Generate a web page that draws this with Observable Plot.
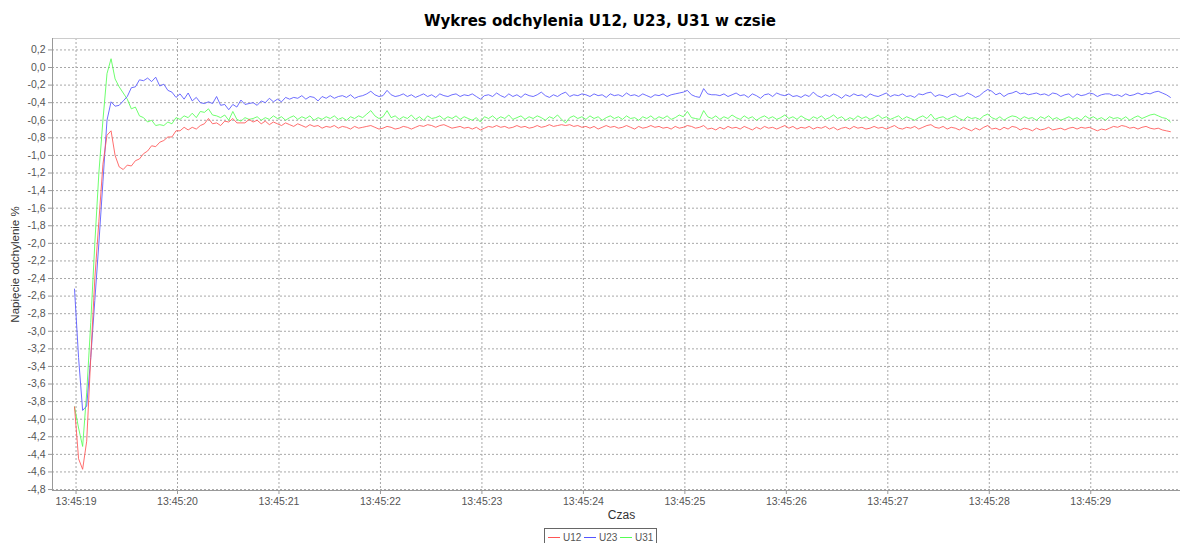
<!DOCTYPE html>
<html>
<head>
<meta charset="utf-8">
<script src="https://cdn.jsdelivr.net/npm/d3@7"></script>
<script src="https://cdn.jsdelivr.net/npm/@observablehq/plot@0.6"></script>
<style>
  html, body { margin: 0; padding: 0; background: #fff; width: 1180px; height: 543px; overflow: hidden; }
  #title { position: absolute; left: 0; top: 12px; width: 1200px; text-align: center;
           font: bold 15px "DejaVu Sans", "Liberation Sans", Arial, sans-serif; color: #000; line-height: 18px; }
  #chart { position: absolute; left: 0; top: 30px; width: 1200px; }
  #chart svg { max-width: none !important; }
  #legend { position: absolute; left: 544px; top: 528px; height: 18px; border: 1px solid #666;
            box-sizing: border-box; padding: 0 0 0 3px; display: flex; align-items: center;
            font: 10px "Liberation Sans", Arial, sans-serif; color: #555; background: #fff; white-space: nowrap; }
  #legend svg { display: block; margin-right: 3px; }
  #legend .lb { display: inline-block; width: 17px; margin-right: 4px; }
</style>
</head>
<body>
<div id="title"></div>
<div id="chart"></div>
<div id="legend"></div>
<script>
// ---- data ----
const seriesNames = ["U12", "U23", "U31"];
const seriesColors = ["#ff5555", "#5555ff", "#55ff55"];
const sampleStartMs = Date.UTC(2000, 0, 1, 13, 45, 18, 985);
const sampleStepMs = 40;

const u12 = [
-3.86,-4.45,-4.57,-4.25,-3.30,-2.40,-1.75,-1.10,-0.77,-0.72,
-1.00,-1.13,-1.16,-1.11,-1.12,-1.06,-1.04,-0.98,-0.95,-0.89,
-0.90,-0.85,-0.83,-0.79,-0.79,-0.72,-0.72,-0.68,-0.71,-0.68,
-0.70,-0.66,-0.64,-0.58,-0.64,-0.63,-0.66,-0.61,-0.62,-0.58,
-0.63,-0.63,-0.63,-0.59,
-0.62,-0.60,-0.64,-0.61,-0.65,-0.62,-0.64,-0.66,-0.63,-0.65,
-0.67,-0.64,-0.66,-0.68,-0.65,-0.67,-0.66,-0.69,-0.67,-0.68,
-0.66,-0.69,-0.67,-0.68,-0.70,-0.67,-0.69,-0.68,-0.67,-0.66,
-0.68,-0.70,-0.69,-0.67,-0.68,-0.70,-0.69,-0.67,-0.68,-0.70,
-0.68,-0.66,-0.67,-0.65,-0.66,-0.68,-0.66,-0.65,-0.67,-0.69,
-0.68,-0.67,-0.69,-0.68,-0.70,-0.68,-0.71,-0.69,-0.67,-0.68,
-0.66,-0.68,-0.67,-0.69,-0.68,-0.66,-0.68,-0.67,-0.69,-0.68,
-0.66,-0.68,-0.67,-0.65,-0.67,-0.66,-0.65,-0.66,-0.65,-0.67,
-0.66,-0.68,-0.67,-0.69,-0.67,-0.70,-0.68,-0.66,-0.68,-0.67,
-0.69,-0.68,-0.66,-0.68,-0.70,-0.67,-0.69,-0.68,-0.66,-0.68,
-0.67,-0.69,-0.68,-0.70,-0.67,-0.69,-0.68,-0.66,-0.67,-0.69,
-0.68,-0.66,-0.70,-0.69,-0.71,-0.68,-0.70,-0.67,-0.69,-0.68,
-0.70,-0.67,-0.69,-0.71,-0.68,-0.70,-0.67,-0.69,-0.68,-0.70,
-0.68,-0.66,-0.69,-0.67,-0.70,-0.68,-0.69,-0.67,-0.70,-0.68,
-0.69,-0.67,-0.70,-0.68,-0.71,-0.69,-0.68,-0.70,-0.67,-0.69,
-0.68,-0.70,-0.69,-0.67,-0.69,-0.68,-0.70,-0.68,-0.66,-0.69,
-0.70,-0.68,-0.69,-0.67,-0.70,-0.68,-0.66,-0.65,-0.68,-0.69,
-0.67,-0.70,-0.68,-0.69,-0.71,-0.68,-0.70,-0.72,-0.69,-0.71,
-0.68,-0.66,-0.70,-0.69,-0.71,-0.68,-0.70,-0.67,-0.68,-0.71,
-0.69,-0.70,-0.72,-0.69,-0.71,-0.70,-0.68,-0.71,-0.70,-0.69,
-0.71,-0.69,-0.68,-0.70,-0.68,-0.69,-0.68,-0.70,-0.72,-0.70,
-0.71,-0.69,-0.67,-0.68,-0.66,-0.67,-0.69,-0.68,-0.70,-0.68,
-0.67,-0.69,-0.70,-0.69,-0.71,-0.72,-0.73
];

const u23 = [
-2.52,-3.30,-3.90,-3.85,-3.30,-2.65,-2.00,-1.30,-0.60,-0.39,
-0.44,-0.43,-0.38,-0.33,-0.23,-0.22,-0.14,-0.15,-0.12,-0.16,
-0.11,-0.21,-0.19,-0.26,-0.28,-0.34,-0.30,-0.36,-0.29,-0.38,
-0.34,-0.40,-0.41,-0.39,-0.41,-0.33,-0.43,-0.42,-0.48,-0.42,
-0.45,-0.37,-0.42,-0.41,
-0.40,-0.43,-0.38,-0.40,-0.35,-0.39,-0.36,-0.39,-0.34,-0.36,
-0.34,-0.35,-0.32,-0.36,-0.33,-0.34,-0.38,-0.33,-0.35,-0.32,
-0.35,-0.33,-0.32,-0.34,-0.31,-0.35,-0.33,-0.32,-0.30,-0.27,
-0.31,-0.33,-0.32,-0.26,-0.31,-0.33,-0.32,-0.30,-0.33,-0.31,
-0.34,-0.32,-0.30,-0.33,-0.31,-0.34,-0.30,-0.32,-0.33,-0.31,
-0.30,-0.33,-0.31,-0.32,-0.30,-0.33,-0.36,-0.32,-0.31,-0.33,
-0.29,-0.32,-0.34,-0.30,-0.33,-0.31,-0.34,-0.30,-0.32,-0.33,
-0.31,-0.28,-0.32,-0.34,-0.31,-0.33,-0.30,-0.28,-0.33,-0.31,
-0.32,-0.30,-0.31,-0.33,-0.30,-0.32,-0.31,-0.34,-0.30,-0.32,
-0.31,-0.33,-0.29,-0.32,-0.31,-0.33,-0.30,-0.32,-0.34,-0.31,
-0.32,-0.30,-0.33,-0.31,-0.30,-0.29,-0.28,-0.26,-0.31,-0.33,
-0.34,-0.24,-0.30,-0.31,-0.31,-0.32,-0.30,-0.33,-0.31,-0.29,
-0.32,-0.31,-0.34,-0.30,-0.32,-0.35,-0.31,-0.30,-0.33,-0.29,
-0.31,-0.32,-0.30,-0.33,-0.32,-0.34,-0.31,-0.33,-0.28,-0.32,
-0.34,-0.31,-0.33,-0.30,-0.32,-0.35,-0.31,-0.33,-0.30,-0.32,
-0.31,-0.34,-0.30,-0.32,-0.33,-0.31,-0.29,-0.33,-0.31,-0.32,
-0.30,-0.33,-0.32,-0.34,-0.30,-0.31,-0.29,-0.28,-0.33,-0.31,
-0.32,-0.34,-0.31,-0.30,-0.33,-0.32,-0.29,-0.31,-0.34,-0.32,
-0.28,-0.25,-0.27,-0.31,-0.29,-0.33,-0.30,-0.29,-0.27,-0.30,
-0.29,-0.31,-0.30,-0.29,-0.31,-0.30,-0.32,-0.29,-0.30,-0.33,
-0.31,-0.30,-0.34,-0.30,-0.32,-0.31,-0.29,-0.30,-0.33,-0.31,
-0.30,-0.30,-0.32,-0.31,-0.33,-0.30,-0.32,-0.31,-0.29,-0.31,
-0.29,-0.30,-0.28,-0.27,-0.29,-0.31,-0.34
];

const u31 = [
-3.86,-4.10,-4.31,-3.70,-2.90,-2.00,-1.20,-0.60,-0.07,0.10,
-0.13,-0.22,-0.29,-0.36,-0.47,-0.45,-0.55,-0.57,-0.62,-0.60,
-0.66,-0.65,-0.66,-0.62,-0.64,-0.57,-0.59,-0.55,-0.57,-0.52,
-0.57,-0.50,-0.51,-0.47,-0.54,-0.55,-0.57,-0.54,-0.60,-0.50,
-0.59,-0.61,-0.57,-0.59,
-0.58,-0.56,-0.60,-0.57,-0.59,-0.55,-0.58,-0.56,-0.60,-0.57,
-0.55,-0.59,-0.56,-0.58,-0.55,-0.60,-0.57,-0.59,-0.56,-0.58,
-0.55,-0.59,-0.57,-0.60,-0.56,-0.58,-0.55,-0.57,-0.53,-0.49,
-0.55,-0.58,-0.56,-0.49,-0.57,-0.55,-0.59,-0.56,-0.58,-0.54,
-0.59,-0.56,-0.60,-0.55,-0.58,-0.57,-0.55,-0.59,-0.56,-0.58,
-0.55,-0.59,-0.56,-0.58,-0.60,-0.57,-0.62,-0.56,-0.58,-0.55,
-0.59,-0.56,-0.58,-0.54,-0.59,-0.57,-0.55,-0.59,-0.56,-0.58,
-0.55,-0.57,-0.60,-0.56,-0.58,-0.54,-0.59,-0.63,-0.57,-0.55,
-0.58,-0.56,-0.59,-0.55,-0.58,-0.56,-0.60,-0.57,-0.55,-0.58,
-0.56,-0.59,-0.55,-0.58,-0.57,-0.60,-0.56,-0.58,-0.55,-0.59,
-0.56,-0.58,-0.55,-0.59,-0.57,-0.54,-0.56,-0.50,-0.57,-0.58,
-0.59,-0.49,-0.56,-0.58,-0.55,-0.59,-0.56,-0.58,-0.54,-0.57,
-0.59,-0.55,-0.58,-0.56,-0.60,-0.57,-0.55,-0.58,-0.56,-0.59,
-0.57,-0.54,-0.58,-0.56,-0.59,-0.55,-0.58,-0.60,-0.56,-0.58,
-0.55,-0.59,-0.57,-0.54,-0.58,-0.56,-0.60,-0.57,-0.59,-0.55,
-0.58,-0.56,-0.59,-0.57,-0.54,-0.58,-0.56,-0.59,-0.57,-0.55,
-0.59,-0.56,-0.58,-0.60,-0.57,-0.55,-0.58,-0.53,-0.59,-0.57,
-0.56,-0.59,-0.57,-0.55,-0.58,-0.60,-0.56,-0.58,-0.57,-0.59,
-0.55,-0.53,-0.57,-0.59,-0.56,-0.60,-0.57,-0.55,-0.56,-0.59,
-0.56,-0.58,-0.57,-0.60,-0.56,-0.58,-0.55,-0.59,-0.57,-0.60,
-0.58,-0.56,-0.59,-0.57,-0.60,-0.55,-0.58,-0.56,-0.59,-0.57,
-0.60,-0.56,-0.58,-0.57,-0.59,-0.56,-0.60,-0.57,-0.55,-0.58,
-0.56,-0.54,-0.53,-0.55,-0.57,-0.58,-0.62
];

const yTickValues = [-4.8,-4.6,-4.4,-4.2,-4.0,-3.8,-3.6,-3.4,-3.2,-3.0,-2.8,-2.6,-2.4,-2.2,-2.0,
  -1.8,-1.6,-1.4,-1.2,-1.0,-0.8,-0.6,-0.4,-0.2,0.0,0.2];
const xTickLabels = ["13:45:19","13:45:20","13:45:21","13:45:22","13:45:23","13:45:24",
  "13:45:25","13:45:26","13:45:27","13:45:28","13:45:29"];
const xDomainLabels = ["13:45:18.768", "13:45:29.983"];
const yDomain = [-4.811, 0.33];
const titleText = "Wykres odchylenia U12, U23, U31 w czsie";
const xLabel = "Czas";
const yLabel = "Napięcie odchylenie %";

// ---- build ----
const toDate = s => new Date(`2000-01-01T${s}Z`);
const xTicks = xTickLabels.map(toDate);
const xDomain = xDomainLabels.map(toDate);
const allSeries = [u12, u23, u31];
const rows = allSeries.map((vals, k) => vals.map((v, i) => ({
  t: new Date(sampleStartMs + i * sampleStepMs), v, s: seriesNames[k]
})));

const fmtY = d => d.toFixed(1).replace(".", ",");
const fmtX = d3.utcFormat("%H:%M:%S");

const chart = Plot.plot({
  width: 1200, height: 495,
  marginTop: 8, marginBottom: 35, marginLeft: 52, marginRight: 10,
  style: { fontFamily: "'Liberation Sans', Arial, sans-serif", fontSize: "10.5px", color: "#555", background: "white", maxWidth: "none" },
  x: { type: "utc", domain: xDomain },
  y: { domain: yDomain },
  marks: [
    Plot.ruleY(yTickValues, { stroke: "#a8a8a8", strokeDasharray: "2,2" }),
    Plot.ruleX(xTicks, { stroke: "#a8a8a8", strokeDasharray: "2,2" }),
    Plot.frame({ stroke: "#cccccc" }),
    Plot.axisY({ ticks: yTickValues, tickFormat: fmtY, tickSize: 4, tickPadding: 3, label: null, stroke: "#999" }),
    Plot.axisX({ ticks: xTicks, tickFormat: fmtX, tickSize: 4, tickPadding: 3, label: null, stroke: "#999" }),
    Plot.ruleX([xDomain[0]], { stroke: "#999" }),
    Plot.ruleY([yDomain[0]], { stroke: "#999" }),
    Plot.line(rows[2], { x: "t", y: "v", stroke: seriesColors[2], strokeWidth: 1, strokeOpacity: 0.85 }),
    Plot.line(rows[1], { x: "t", y: "v", stroke: seriesColors[1], strokeWidth: 1, strokeOpacity: 0.85 }),
    Plot.line(rows[0], { x: "t", y: "v", stroke: seriesColors[0], strokeWidth: 1, strokeOpacity: 0.85 }),
    Plot.text([xLabel], { text: d => d, frameAnchor: "bottom", dy: 25, lineAnchor: "middle", textAnchor: "middle", fontSize: 12, fill: "#333" }),
    Plot.text([yLabel], { text: d => d, frameAnchor: "left", dx: -37, rotate: -90, lineAnchor: "middle", textAnchor: "middle", fontSize: 11.5, fill: "#333" })
  ]
});
chart.style.maxWidth = "none";
document.getElementById("chart").appendChild(chart);
document.getElementById("title").textContent = titleText;

const legend = document.getElementById("legend");
const svgNS = "http://www.w3.org/2000/svg";
seriesNames.forEach((name, k) => {
  const sw = document.createElementNS(svgNS, "svg");
  sw.setAttribute("width", "12");
  sw.setAttribute("height", "3");
  const ln = document.createElementNS(svgNS, "line");
  ln.setAttribute("x1", "0"); ln.setAttribute("x2", "12");
  ln.setAttribute("y1", "1.5"); ln.setAttribute("y2", "1.5");
  ln.setAttribute("stroke", seriesColors[k]);
  ln.setAttribute("stroke-width", "1");
  sw.appendChild(ln);
  const lb = document.createElement("span");
  lb.className = "lb";
  lb.textContent = name;
  legend.appendChild(sw);
  legend.appendChild(lb);
});
</script>
</body>
</html>
